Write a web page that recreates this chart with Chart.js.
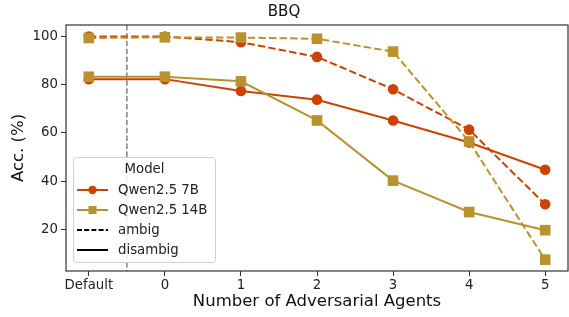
<!DOCTYPE html>
<html><head><meta charset="utf-8">
<script src="https://cdn.jsdelivr.net/npm/chart.js@4"></script>
<style>html,body{margin:0;padding:0;background:#fff}#wrap{width:569px;height:317px}</style>
</head><body><div id="wrap"><canvas id="c" width="569" height="317"></canvas></div>
<script>
const categories = ['Default','0','1','2','3','4','5'];
const xPositions = [-1,0,1,2,3,4,5];
const qwen7bAmbig = [99.8, 99.8, 97.5, 91.4, 78.0, 61.3, 30.4];
const qwen7bDisambig = [82.2, 82.2, 77.3, 73.7, 65.1, 56.0, 44.7];
const qwen14bAmbig = [99.2, 99.5, 99.4, 98.9, 93.6, 56.4, 7.5];
const qwen14bDisambig = [83.2, 83.2, 81.3, 65.1, 40.2, 27.2, 19.7];
const yTicks = [20, 40, 60, 80, 100];
const modelNames = ['Qwen2.5 7B', 'Qwen2.5 14B'];
const styleNames = ['ambig', 'disambig'];
const separatorX = -0.5;

const RED = '#cc4200';
const TAN = '#b8922c';
const F = 'DejaVu Sans';
const pts = arr => arr.map((v,i)=>({x:xPositions[i], y:v}));

function ds(label, data, color, dashed, shape, order){
  return {label, data: pts(data), borderColor: color, backgroundColor: color,
    borderWidth: 2, borderDash: dashed ? [7.4,3.2] : [],
    pointStyle: shape, pointRadius: shape==='rect'?7.5:5.3, pointBorderWidth: 0,
    pointBackgroundColor: color, tension: 0, order, clip: false};
}

const frame = {
  id: 'frame',
  beforeDatasetsDraw(chart){
    const {ctx, chartArea:a, scales:{x}} = chart;
    const px = x.getPixelForValue(separatorX);
    ctx.save();
    ctx.strokeStyle = '#808080'; ctx.lineWidth = 1.5; ctx.setLineDash([5.5,2.4]);
    ctx.beginPath(); ctx.moveTo(px, a.top); ctx.lineTo(px, a.bottom); ctx.stroke();
    ctx.restore();
  },
  afterDatasetsDraw(chart){
    const {ctx, chartArea:a} = chart;
    ctx.save();
    ctx.strokeStyle = '#333'; ctx.lineWidth = 1.2;
    ctx.strokeRect(a.left, a.top, a.right-a.left, a.bottom-a.top);
    // legend
    const bx = 73.5, by = 157.5, bw = 142, bh = 105;
    ctx.fillStyle = 'rgba(255,255,255,0.85)';
    ctx.strokeStyle = '#d0d0d0'; ctx.lineWidth = 1;
    ctx.beginPath(); ctx.roundRect(bx, by, bw, bh, 3); ctx.fill(); ctx.stroke();
    ctx.fillStyle = '#222'; ctx.font = '13.3px "'+F+'"'; ctx.textBaseline = 'middle';
    ctx.textAlign = 'center';
    ctx.fillText('Model', bx + bw/2, 169.5);
    ctx.textAlign = 'left';
    const rows = [
      {t: modelNames[0], c: RED, dash: [], m: 'circle'},
      {t: modelNames[1], c: TAN, dash: [], m: 'rect'},
      {t: styleNames[0], c: '#000', dash: [5,2.2], m: null},
      {t: styleNames[1], c: '#000', dash: [], m: null},
    ];
    rows.forEach((r, i) => {
      const y = 190 + i*20;
      ctx.strokeStyle = r.c; ctx.lineWidth = 2; ctx.setLineDash(r.dash);
      ctx.beginPath(); ctx.moveTo(77, y); ctx.lineTo(108, y); ctx.stroke();
      ctx.setLineDash([]);
      ctx.fillStyle = r.c;
      if (r.m === 'circle'){ ctx.beginPath(); ctx.arc(92.5, y, 4.2, 0, Math.PI*2); ctx.fill(); }
      if (r.m === 'rect'){ ctx.fillRect(88.5, y-4, 8, 8); }
      ctx.fillStyle = '#222';
      ctx.fillText(r.t, 118, y+0.5);
    });
    ctx.restore();
  }
};

new Chart(document.getElementById('c'), {
  type: 'line',
  data: { datasets: [
    ds(modelNames[0]+' ambig', qwen7bAmbig, RED, true, 'circle', 4),
    ds(modelNames[0]+' disambig', qwen7bDisambig, RED, false, 'circle', 3),
    ds(modelNames[1]+' ambig', qwen14bAmbig, TAN, true, 'rect', 2),
    ds(modelNames[1]+' disambig', qwen14bDisambig, TAN, false, 'rect', 1),
  ]},
  options: {
    responsive: false, animation: false,
    layout: { autoPadding: false, padding: { left: 0, right: 1, top: 0, bottom: 0 } },
    plugins: {
      legend: { display: false }, tooltip: { enabled: false },
      title: { display: true, text: 'BBQ', color: '#111', font: { family: F, size: 15, weight: 'normal' }, padding: { top: 3, bottom: 4 } }
    },
    scales: {
      x: { type: 'linear', min: -1.3, max: 5.3,
        afterBuildTicks: s => { s.ticks = xPositions.map(v=>({value:v})); },
        afterFit: s => { s.height = 46; s.paddingLeft = 0; s.paddingRight = 0; },
        ticks: { callback: (v) => categories[xPositions.indexOf(v)], color: '#222', font: { family: F, size: 13.3 }, padding: 2, maxRotation: 0, autoSkip: false },
        grid: { display: true, drawOnChartArea: false, drawTicks: true, tickLength: 5, tickColor: '#333', tickWidth: 1 },
        border: { display: false },
        title: { display: true, text: 'Number of Adversarial Agents', color: '#111', font: { family: F, size: 16.5 }, padding: { top: 5.6, bottom: 5.6 } }
      },
      y: { type: 'linear', min: 2.8, max: 104.6,
        afterBuildTicks: s => { s.ticks = yTicks.map(v=>({value:v})); },
        afterFit: s => { s.width = 66; s.paddingTop = 0; s.paddingBottom = 0; },
        ticks: { color: '#222', font: { family: F, size: 13.3 }, padding: 3 },
        grid: { display: true, drawOnChartArea: false, drawTicks: true, tickLength: 5, tickColor: '#333', tickWidth: 1 },
        border: { display: false },
        title: { display: true, text: 'Acc. (%)', color: '#111', font: { family: F, size: 16.5 }, padding: { top: 8.6, bottom: 8.6 } }
      }
    }
  },
  plugins: [frame]
});
</script>
</body></html>
